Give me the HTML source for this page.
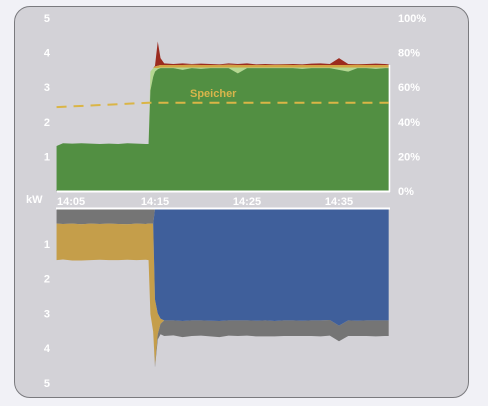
<!DOCTYPE html>
<html><head><meta charset="utf-8">
<style>
html,body{margin:0;padding:0;background:#f1f1f6;}
body{width:488px;height:406px;position:relative;overflow:hidden;font-family:"Liberation Sans",sans-serif;}
#card{position:absolute;left:14px;top:6px;width:453px;height:390px;background:#d3d2d7;border:1px solid #7a7a7e;border-radius:16px;}
svg{position:absolute;left:0;top:0;}
text{font-family:"Liberation Sans",sans-serif;font-weight:bold;font-size:11px;fill:#fff;}
</style></head>
<body>
<div id="card"></div>
<svg id="chart" width="488" height="406"></svg>
<script>
const times=[4.3,5,6,7,8,9,10,11,12,13,14,14.3,14.5,14.8,15,15.3,15.6,16,17,18,19,20,21,22,23,24,25,26,27,28,29,30,31,32,33,34,35,36,37,38,39,40,40.4];
const pvGreen=[1.3,1.38,1.37,1.38,1.37,1.36,1.37,1.36,1.38,1.37,1.36,1.36,2.9,3.3,3.45,3.52,3.55,3.55,3.55,3.5,3.55,3.53,3.55,3.55,3.55,3.4,3.55,3.55,3.55,3.55,3.55,3.55,3.53,3.55,3.55,3.55,3.5,3.45,3.55,3.55,3.53,3.55,3.55];
const pvLight=[0,0,0,0,0,0,0,0,0,0,0,0,0.55,0.25,0.1,0.03,0.02,0.02,0.02,0.07,0.02,0.04,0.02,0.02,0.02,0.17,0.02,0.02,0.02,0.02,0.02,0.02,0.04,0.02,0.02,0.02,0.07,0.12,0.02,0.02,0.04,0.02,0.02];
const pvOrange=[0,0,0,0,0,0,0,0,0,0,0,0,0,0,0.05,0.07,0.07,0.07,0.07,0.07,0.08,0.07,0.07,0.07,0.08,0.07,0.07,0.07,0.07,0.07,0.08,0.07,0.07,0.07,0.07,0.07,0.07,0.07,0.08,0.07,0.07,0.07,0.07];
const pvRed=[0,0,0,0,0,0,0,0,0,0,0,0,0,0,0.02,0.7,0.2,0.05,0.03,0.05,0.02,0.04,0.03,0.02,0.04,0.03,0.05,0.02,0.03,0.02,0.02,0.03,0.02,0.04,0.05,0.03,0.2,0.03,0.02,0.03,0.04,0.03,0.02];
const socTimes=[4.3,14.3,40.4];
const socValues=[48.5,51,51];
const useGrayTop=[0.42,0.43,0.42,0.44,0.42,0.43,0.42,0.43,0.44,0.42,0.43,0.42,0.42,0.42,0,0,0,0,0,0,0,0,0,0,0,0,0,0,0,0,0,0,0,0,0,0,0,0,0,0,0,0,0];
const useBlue=[0,0,0,0,0,0,0,0,0,0,0,0,0,0,2.6,3.0,3.15,3.2,3.2,3.22,3.2,3.2,3.21,3.22,3.2,3.2,3.2,3.21,3.2,3.22,3.2,3.2,3.21,3.2,3.2,3.19,3.35,3.2,3.21,3.2,3.2,3.2,3.2];
const useYellow=[1.05,1.02,1.06,1.04,1.05,1.03,1.05,1.04,1.02,1.05,1.03,1.05,2.6,3.1,1.9,0.6,0.15,0,0,0,0,0,0,0,0,0,0,0,0,0,0,0,0,0,0,0,0,0,0,0,0,0,0,0];
const useGrayBot=[0,0,0,0,0,0,0,0,0,0,0,0,0,0,0.05,0.15,0.3,0.45,0.43,0.46,0.45,0.44,0.45,0.46,0.44,0.45,0.44,0.45,0.46,0.44,0.45,0.45,0.44,0.45,0.46,0.45,0.45,0.45,0.44,0.45,0.46,0.45,0.45];
const kwTicks=[1,2,3,4,5];
const pctTicks=["0%","20%","40%","60%","80%","100%"];
const timeTicks=[15,25,35];
const timeLabels=["14:15","14:25","14:35"];

const svg=document.getElementById('chart');
const NS='http://www.w3.org/2000/svg';
const X=m=>155+(m-15)*9.2;
const Yt=v=>191-v*34.6;
const Yb=v=>209+v*34.8;
const Yp=p=>191-p*1.73;
function mk(tag,attrs){const e=document.createElementNS(NS,tag);for(const k in attrs)e.setAttribute(k,attrs[k]);svg.appendChild(e);return e;}
function area(lo,hi,Y,color,name){
  let d='M'+X(times[0])+','+Y(hi[0]);
  for(let i=1;i<times.length;i++)d+='L'+X(times[i])+','+Y(hi[i]);
  for(let i=times.length-1;i>=0;i--)d+='L'+X(times[i])+','+Y(lo[i]);
  const p=mk('path',{d:d+'Z',fill:color});
  
  
}
function cum(arrs){const out=[times.map(()=>0)];arrs.forEach(a=>{const prev=out[out.length-1];out.push(prev.map((v,i)=>v+a[i]));});return out;}
const t=cum([pvGreen,pvLight,pvOrange,pvRed]);
area(t[3],t[4],Yt,'#9b2b1f','pv-surplus-area');
area(t[2],t[3],Yt,'#d2a443','pv-orange-area');
area(t[1],t[2],Yt,'#b4d88f','pv-light-area');
area(t[0],t[1],Yt,'#528f42','pv-green-area');
const b=cum([useGrayTop,useBlue,useYellow,useGrayBot]);
area(b[0],b[1],Yb,'#757575','grid-top-area');
area(b[2],b[3],Yb,'#c59e4a','battery-area');
area(b[3],b[4],Yb,'#757575','grid-bottom-area');
area(b[1],b[2],Yb,'#3f5f9b','consumption-area');
let l=mk('line',{x1:57,x2:390,y1:191.5,y2:191.5,stroke:'#fff','stroke-width':2});

l=mk('line',{x1:389.5,x2:389.5,y1:65,y2:192,stroke:'#fff','stroke-width':1.5});

l=mk('line',{x1:56,x2:390,y1:208.5,y2:208.5,stroke:'#fff','stroke-width':2});

let sd='';socTimes.forEach((m,i)=>{sd+=(i?'L':'M')+X(m)+','+Yp(socValues[i]);});
l=mk('path',{d:sd,fill:'none',stroke:'#dab546','stroke-width':2,'stroke-dasharray':'10,7'});

let tx=mk('text',{x:190,y:97,style:'fill:#d8b54b;font-size:11px'});tx.textContent='Speicher';

kwTicks.forEach(v=>{
  let e=mk('text',{x:50,y:Yt(v)+4,'text-anchor':'end'});e.textContent=v;
  
  e=mk('text',{x:50,y:Yb(v)+4,'text-anchor':'end'});e.textContent=v;
  
});
pctTicks.forEach((s,i)=>{
  const e=mk('text',{x:398,y:Yp(i*20)+4});e.textContent=s;
  
});
let e=mk('text',{x:57,y:205});e.textContent='14:05';

timeTicks.forEach((m,i)=>{
  const e=mk('text',{x:X(m),y:205,'text-anchor':'middle'});e.textContent=timeLabels[i];
  
});
e=mk('text',{x:26,y:203});e.textContent='kW';

</script>
</body></html>
